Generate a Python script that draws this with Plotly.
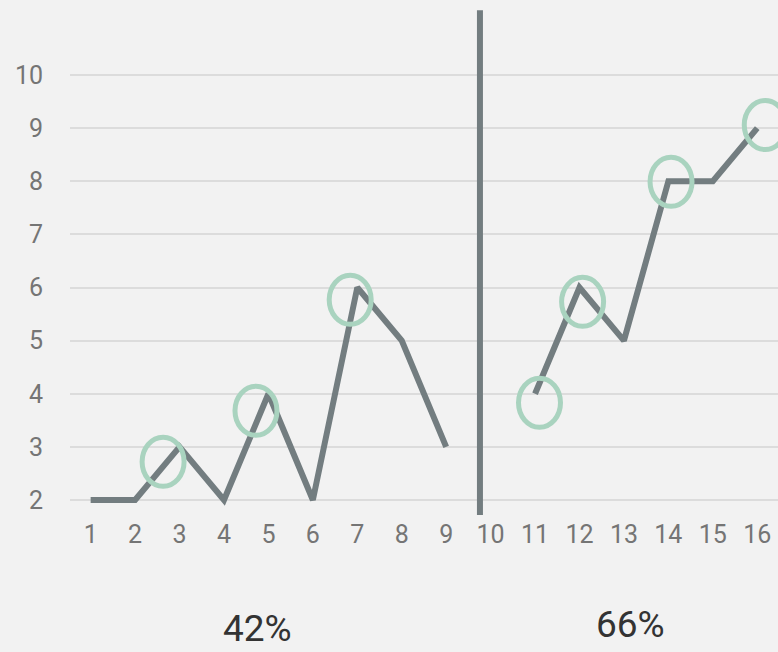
import plotly.graph_objects as go

# ---- data ----
x_left = [1, 2, 3, 4, 5, 6, 7, 8, 9]
y_left = [2, 2, 3, 2, 4, 2, 6, 5, 3]
x_right = [11, 12, 13, 14, 15, 16]
y_right = [4, 6, 5, 8, 8, 9]

# highlighted points (ellipse centres)
hl_x = [2.63, 4.72, 6.84, 11.1, 12.07, 14.06, 16.18]
hl_y = [2.72, 3.68, 5.77, 3.83, 5.73, 7.99, 9.06]

x_ticks = list(range(1, 17))
y_ticks = list(range(2, 11))

divider_x = 9.76
labels_text = ["42%", "66%"]
labels_x = [4.75, 13.15]
labels_y = [-0.221, -0.213]

LINE = "#737d80"
RING = "#a9d3bf"

fig = go.Figure()
fig.add_trace(go.Scatter(
    x=x_left + [None] + x_right,
    y=y_left + [None] + y_right,
    mode="lines",
    line=dict(color=LINE, width=6),
    connectgaps=False,
    hoverinfo="skip",
))

shapes = []
# divider
shapes.append(dict(type="line", xref="x", yref="y", x0=divider_x, x1=divider_x,
                   y0=1.7176, y1=11.22, line=dict(color=LINE, width=6)))
for cx, cy in zip(hl_x, hl_y):
    shapes.append(dict(type="circle", xref="x", yref="y",
                       xsizemode="pixel", ysizemode="pixel",
                       xanchor=cx, yanchor=cy,
                       x0=-21, x1=21, y0=-24.5, y1=24.5,
                       line=dict(color=RING, width=5), fillcolor="rgba(0,0,0,0)"))

annotations = []
for t, lx, ly in zip(labels_text, labels_x, labels_y):
    annotations.append(dict(text=t, x=lx, xref="x", y=ly, yref="paper",
                            showarrow=False, yanchor="middle", xanchor="center",
                            font=dict(family="Roboto", size=37, color="#333333")))

fig.update_layout(
    width=778, height=652,
    margin=dict(l=70, r=0, t=0, b=137),
    paper_bgcolor="#f2f2f2",
    plot_bgcolor="#f2f2f2",
    showlegend=False,
    shapes=shapes,
    annotations=annotations,
    font=dict(family="Roboto", size=25, color="#757575"),
    xaxis=dict(range=[0.535, 16.467], tickvals=x_ticks, showgrid=False,
               zeroline=False, showline=False, ticks="", ticklabelstandoff=2,
               tickfont=dict(size=25, color="#757575")),
    yaxis=dict(range=[1.7176, 11.412], tickvals=y_ticks, showgrid=True,
               gridcolor="#dcdcdc", gridwidth=2, zeroline=False, showline=False,
               ticks="", ticklabelstandoff=26,
               tickfont=dict(size=25, color="#757575")),
)

fig.write_html("out.html")
